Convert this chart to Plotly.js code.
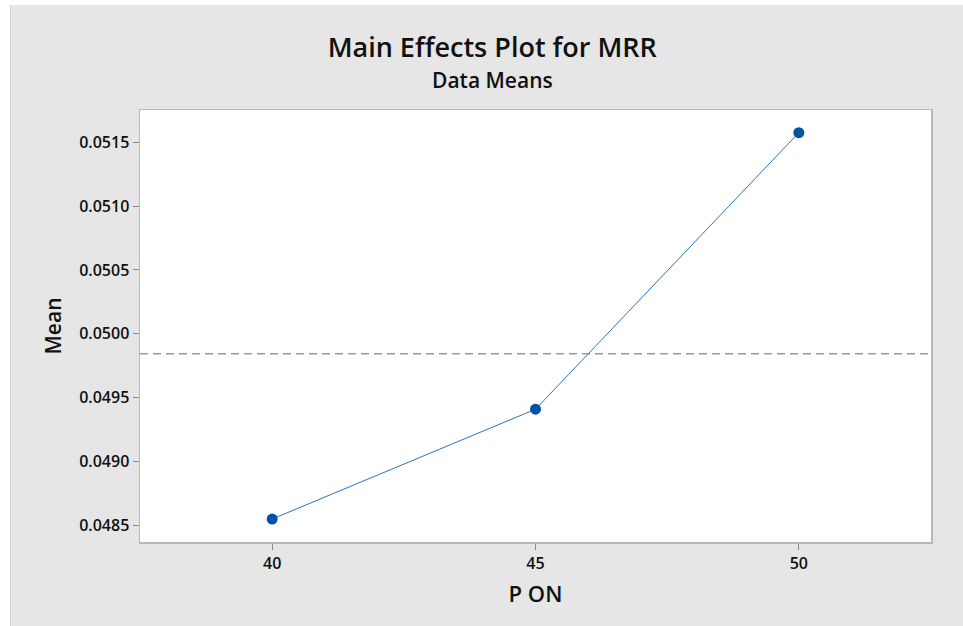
<!DOCTYPE html>
<html>
<head>
<meta charset="utf-8">
<script src="https://cdn.plot.ly/plotly-3.0.1.min.js"></script>
<style>
  html, body { margin: 0; padding: 0; background: #ffffff; }
  #chart { position: absolute; left: 10px; top: 5px; width: 953px; height: 621px; border-left: 1px solid #d0d0d0; box-sizing: border-box; }
</style>
</head>
<body>
<div id="chart"></div>
<script>
// Data
const levels = [40, 45, 50];
const means = [0.048549, 0.049409, 0.051575];
const grandMean = 0.049843;
const xTicks = [40, 45, 50];
const yTicks = [0.0485, 0.0490, 0.0495, 0.0500, 0.0505, 0.0510, 0.0515];
const yTickLabels = ["0.0485", "0.0490", "0.0495", "0.0500", "0.0505", "0.0510", "0.0515"];
const xRange = [37.49, 52.51];
const yRange = [0.048369, 0.051753];

const FONT = "'Open Sans', 'Noto Sans', sans-serif";

const traces = [
  {
    x: [xRange[0], xRange[1]],
    y: [grandMean, grandMean],
    type: 'scatter',
    mode: 'lines',
    line: { color: '#9a9a9a', width: 1.5, dash: '8px,5px' },
    hoverinfo: 'skip',
    showlegend: false
  },
  {
    x: levels,
    y: means,
    type: 'scatter',
    mode: 'lines+markers',
    line: { color: '#2a74c0', width: 1 },
    marker: { color: '#0054a6', size: 11 },
    showlegend: false
  }
];

const layout = {
  width: 953,
  height: 621,
  paper_bgcolor: '#e6e6e6',
  plot_bgcolor: '#ffffff',
  margin: { l: 129, t: 105, r: 33, b: 84, pad: 0 },
  font: { family: FONT, color: '#111111' },
  title: {
    text: 'Main Effects Plot for MRR',
    font: { family: FONT, size: 27, weight: 600, color: '#111111' },
    x: 0.505, xref: 'container', xanchor: 'center',
    y: 1 - 43 / 621, yref: 'container', yanchor: 'middle'
  },
  annotations: [
    {
      text: 'Data Means',
      xref: 'paper', yref: 'paper',
      x: (481 - 129) / (953 - 129 - 33), y: 1 + (105 - 75) / (621 - 105 - 84),
      xanchor: 'center', yanchor: 'middle',
      showarrow: false,
      font: { family: FONT, size: 21, weight: 600, color: '#111111' }
    }
  ],
  xaxis: {
    range: xRange,
    tickvals: xTicks,
    ticktext: xTicks.map(String),
    ticks: 'outside', ticklen: 6, tickcolor: '#8a8a8a', tickwidth: 1,
    tickfont: { family: FONT, size: 16, weight: 600, color: '#111111' },
    showgrid: false, zeroline: false,
    showline: true, linecolor: '#b8b8b8', linewidth: 1.5, mirror: true,
    title: { text: 'P ON', font: { family: FONT, size: 22, weight: 600, color: '#111111' }, standoff: 14 }
  },
  yaxis: {
    range: yRange,
    tickvals: yTicks,
    ticktext: yTickLabels,
    ticks: 'outside', ticklen: 6, tickcolor: '#8a8a8a', tickwidth: 1,
    tickfont: { family: FONT, size: 16, weight: 600, color: '#111111' },
    showgrid: false, zeroline: false,
    showline: true, linecolor: '#b8b8b8', linewidth: 1.5, mirror: true,
    title: { text: 'Mean', font: { family: FONT, size: 21, weight: 600, color: '#111111' }, standoff: 12 }
  }
};

Plotly.newPlot('chart', traces, layout, { displayModeBar: false, staticPlot: true });
</script>
</body>
</html>
